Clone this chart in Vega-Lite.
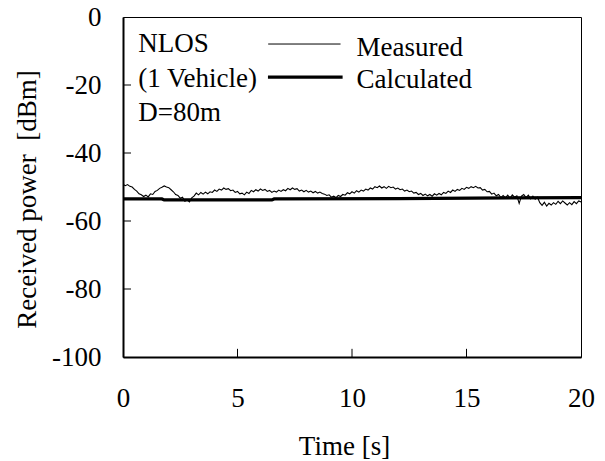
{
  "$schema": "https://vega.github.io/schema/vega-lite/v6.json",
  "width": 458,
  "height": 340,
  "autosize": {"type": "none"},
  "padding": {"left": 123, "top": 17, "right": 24, "bottom": 104},
  "background": "white",
  "config": {
    "font": "Liberation Serif",
    "view": {"stroke": "black", "strokeWidth": 1},
    "axis": {
      "grid": false,
      "ticks": false,
      "tickSize": 0,
      "labelFlush": false,
      "domainColor": "black",
      "domainWidth": 2,
      "labelColor": "black",
      "labelFont": "Liberation Serif",
      "labelFontSize": 27,
      "labelExpr": "datum.value + ''",
      "titleColor": "black",
      "titleFont": "Liberation Serif",
      "titleFontSize": 27,
      "titleFontWeight": "normal"
    }
  },
  "datasets": {
    "measured": [
      {"time":0.0,"power":-49.2,"series":"Measured"},{"time":0.1,"power":-49.6,"series":"Measured"},{"time":0.2,"power":-49.3,"series":"Measured"},{"time":0.3,"power":-49.8,"series":"Measured"},{"time":0.4,"power":-50.0,"series":"Measured"},{"time":0.5,"power":-50.7,"series":"Measured"},{"time":0.6,"power":-51.2,"series":"Measured"},{"time":0.7,"power":-52.0,"series":"Measured"},{"time":0.8,"power":-52.3,"series":"Measured"},{"time":0.9,"power":-52.8,"series":"Measured"},
      {"time":1.0,"power":-52.4,"series":"Measured"},{"time":1.1,"power":-52.9,"series":"Measured"},{"time":1.2,"power":-52.0,"series":"Measured"},{"time":1.3,"power":-52.2,"series":"Measured"},{"time":1.4,"power":-51.3,"series":"Measured"},{"time":1.5,"power":-51.0,"series":"Measured"},{"time":1.6,"power":-50.4,"series":"Measured"},{"time":1.7,"power":-50.1,"series":"Measured"},{"time":1.8,"power":-49.7,"series":"Measured"},{"time":1.9,"power":-50.0,"series":"Measured"},
      {"time":2.0,"power":-50.2,"series":"Measured"},{"time":2.1,"power":-50.8,"series":"Measured"},{"time":2.2,"power":-51.4,"series":"Measured"},{"time":2.3,"power":-52.2,"series":"Measured"},{"time":2.4,"power":-52.5,"series":"Measured"},{"time":2.5,"power":-53.3,"series":"Measured"},{"time":2.6,"power":-53.0,"series":"Measured"},{"time":2.7,"power":-54.2,"series":"Measured"},{"time":2.8,"power":-53.8,"series":"Measured"},{"time":2.9,"power":-54.4,"series":"Measured"},
      {"time":3.0,"power":-53.2,"series":"Measured"},{"time":3.1,"power":-52.7,"series":"Measured"},{"time":3.2,"power":-51.8,"series":"Measured"},{"time":3.3,"power":-52.3,"series":"Measured"},{"time":3.4,"power":-51.6,"series":"Measured"},{"time":3.5,"power":-52.1,"series":"Measured"},{"time":3.6,"power":-51.5,"series":"Measured"},{"time":3.7,"power":-52.0,"series":"Measured"},{"time":3.8,"power":-51.4,"series":"Measured"},{"time":3.9,"power":-51.6,"series":"Measured"},
      {"time":4.0,"power":-50.9,"series":"Measured"},{"time":4.1,"power":-51.3,"series":"Measured"},{"time":4.2,"power":-50.6,"series":"Measured"},{"time":4.3,"power":-50.9,"series":"Measured"},{"time":4.4,"power":-50.3,"series":"Measured"},{"time":4.5,"power":-50.7,"series":"Measured"},{"time":4.6,"power":-50.5,"series":"Measured"},{"time":4.7,"power":-51.1,"series":"Measured"},{"time":4.8,"power":-50.9,"series":"Measured"},{"time":4.9,"power":-51.6,"series":"Measured"},
      {"time":5.0,"power":-51.3,"series":"Measured"},{"time":5.1,"power":-52.0,"series":"Measured"},{"time":5.2,"power":-51.8,"series":"Measured"},{"time":5.3,"power":-52.3,"series":"Measured"},{"time":5.4,"power":-51.5,"series":"Measured"},{"time":5.5,"power":-51.9,"series":"Measured"},{"time":5.6,"power":-51.0,"series":"Measured"},{"time":5.7,"power":-51.4,"series":"Measured"},{"time":5.8,"power":-50.8,"series":"Measured"},{"time":5.9,"power":-51.2,"series":"Measured"},
      {"time":6.0,"power":-50.6,"series":"Measured"},{"time":6.1,"power":-51.0,"series":"Measured"},{"time":6.2,"power":-50.7,"series":"Measured"},{"time":6.3,"power":-51.3,"series":"Measured"},{"time":6.4,"power":-51.0,"series":"Measured"},{"time":6.5,"power":-51.6,"series":"Measured"},{"time":6.6,"power":-51.2,"series":"Measured"},{"time":6.7,"power":-51.5,"series":"Measured"},{"time":6.8,"power":-50.9,"series":"Measured"},{"time":6.9,"power":-51.3,"series":"Measured"},
      {"time":7.0,"power":-50.8,"series":"Measured"},{"time":7.1,"power":-51.1,"series":"Measured"},{"time":7.2,"power":-50.4,"series":"Measured"},{"time":7.3,"power":-50.8,"series":"Measured"},{"time":7.4,"power":-50.3,"series":"Measured"},{"time":7.5,"power":-50.7,"series":"Measured"},{"time":7.6,"power":-50.5,"series":"Measured"},{"time":7.7,"power":-51.2,"series":"Measured"},{"time":7.8,"power":-50.9,"series":"Measured"},{"time":7.9,"power":-51.4,"series":"Measured"},
      {"time":8.0,"power":-51.0,"series":"Measured"},{"time":8.1,"power":-51.5,"series":"Measured"},{"time":8.2,"power":-51.2,"series":"Measured"},{"time":8.3,"power":-51.7,"series":"Measured"},{"time":8.4,"power":-51.3,"series":"Measured"},{"time":8.5,"power":-51.8,"series":"Measured"},{"time":8.6,"power":-51.5,"series":"Measured"},{"time":8.7,"power":-51.9,"series":"Measured"},{"time":8.8,"power":-52.1,"series":"Measured"},{"time":8.9,"power":-52.5,"series":"Measured"},
      {"time":9.0,"power":-52.3,"series":"Measured"},{"time":9.1,"power":-53.0,"series":"Measured"},{"time":9.2,"power":-52.7,"series":"Measured"},{"time":9.3,"power":-53.1,"series":"Measured"},{"time":9.4,"power":-52.5,"series":"Measured"},{"time":9.5,"power":-52.8,"series":"Measured"},{"time":9.6,"power":-52.2,"series":"Measured"},{"time":9.7,"power":-52.4,"series":"Measured"},{"time":9.8,"power":-51.7,"series":"Measured"},{"time":9.9,"power":-52.0,"series":"Measured"},
      {"time":10.0,"power":-51.4,"series":"Measured"},{"time":10.1,"power":-51.8,"series":"Measured"},{"time":10.2,"power":-51.1,"series":"Measured"},{"time":10.3,"power":-51.5,"series":"Measured"},{"time":10.4,"power":-50.9,"series":"Measured"},{"time":10.5,"power":-51.2,"series":"Measured"},{"time":10.6,"power":-50.6,"series":"Measured"},{"time":10.7,"power":-50.9,"series":"Measured"},{"time":10.8,"power":-50.3,"series":"Measured"},{"time":10.9,"power":-50.6,"series":"Measured"},
      {"time":11.0,"power":-49.9,"series":"Measured"},{"time":11.1,"power":-50.2,"series":"Measured"},{"time":11.2,"power":-49.7,"series":"Measured"},{"time":11.3,"power":-50.3,"series":"Measured"},{"time":11.4,"power":-49.9,"series":"Measured"},{"time":11.5,"power":-50.4,"series":"Measured"},{"time":11.6,"power":-49.8,"series":"Measured"},{"time":11.7,"power":-50.2,"series":"Measured"},{"time":11.8,"power":-50.0,"series":"Measured"},{"time":11.9,"power":-50.6,"series":"Measured"},
      {"time":12.0,"power":-50.3,"series":"Measured"},{"time":12.1,"power":-50.8,"series":"Measured"},{"time":12.2,"power":-50.6,"series":"Measured"},{"time":12.3,"power":-51.2,"series":"Measured"},{"time":12.4,"power":-50.9,"series":"Measured"},{"time":12.5,"power":-51.4,"series":"Measured"},{"time":12.6,"power":-51.2,"series":"Measured"},{"time":12.7,"power":-51.8,"series":"Measured"},{"time":12.8,"power":-51.6,"series":"Measured"},{"time":12.9,"power":-52.2,"series":"Measured"},
      {"time":13.0,"power":-51.9,"series":"Measured"},{"time":13.1,"power":-52.5,"series":"Measured"},{"time":13.2,"power":-52.1,"series":"Measured"},{"time":13.3,"power":-52.6,"series":"Measured"},{"time":13.4,"power":-52.2,"series":"Measured"},{"time":13.5,"power":-52.7,"series":"Measured"},{"time":13.6,"power":-52.0,"series":"Measured"},{"time":13.7,"power":-52.4,"series":"Measured"},{"time":13.8,"power":-51.9,"series":"Measured"},{"time":13.9,"power":-52.3,"series":"Measured"},
      {"time":14.0,"power":-51.6,"series":"Measured"},{"time":14.1,"power":-51.9,"series":"Measured"},{"time":14.2,"power":-51.2,"series":"Measured"},{"time":14.3,"power":-51.6,"series":"Measured"},{"time":14.4,"power":-50.9,"series":"Measured"},{"time":14.5,"power":-51.3,"series":"Measured"},{"time":14.6,"power":-50.7,"series":"Measured"},{"time":14.7,"power":-51.0,"series":"Measured"},{"time":14.8,"power":-50.4,"series":"Measured"},{"time":14.9,"power":-50.7,"series":"Measured"},
      {"time":15.0,"power":-50.1,"series":"Measured"},{"time":15.1,"power":-50.4,"series":"Measured"},{"time":15.2,"power":-49.9,"series":"Measured"},{"time":15.3,"power":-50.2,"series":"Measured"},{"time":15.4,"power":-49.8,"series":"Measured"},{"time":15.5,"power":-50.3,"series":"Measured"},{"time":15.6,"power":-50.2,"series":"Measured"},{"time":15.7,"power":-50.9,"series":"Measured"},{"time":15.8,"power":-50.7,"series":"Measured"},{"time":15.9,"power":-51.4,"series":"Measured"},
      {"time":16.0,"power":-51.3,"series":"Measured"},{"time":16.1,"power":-52.1,"series":"Measured"},{"time":16.2,"power":-51.8,"series":"Measured"},{"time":16.3,"power":-52.6,"series":"Measured"},{"time":16.4,"power":-52.2,"series":"Measured"},{"time":16.5,"power":-53.1,"series":"Measured"},{"time":16.6,"power":-52.5,"series":"Measured"},{"time":16.7,"power":-53.2,"series":"Measured"},{"time":16.8,"power":-52.4,"series":"Measured"},{"time":16.9,"power":-53.3,"series":"Measured"},
      {"time":17.0,"power":-52.3,"series":"Measured"},{"time":17.1,"power":-53.0,"series":"Measured"},{"time":17.2,"power":-52.6,"series":"Measured"},{"time":17.3,"power":-54.8,"series":"Measured"},{"time":17.4,"power":-52.7,"series":"Measured"},{"time":17.5,"power":-52.2,"series":"Measured"},{"time":17.6,"power":-53.1,"series":"Measured"},{"time":17.7,"power":-52.4,"series":"Measured"},{"time":17.8,"power":-53.5,"series":"Measured"},{"time":17.9,"power":-52.7,"series":"Measured"},
      {"time":18.0,"power":-53.6,"series":"Measured"},{"time":18.1,"power":-53.0,"series":"Measured"},{"time":18.2,"power":-54.6,"series":"Measured"},{"time":18.3,"power":-55.4,"series":"Measured"},{"time":18.4,"power":-54.5,"series":"Measured"},{"time":18.5,"power":-55.6,"series":"Measured"},{"time":18.6,"power":-54.8,"series":"Measured"},{"time":18.7,"power":-55.3,"series":"Measured"},{"time":18.8,"power":-54.6,"series":"Measured"},{"time":18.9,"power":-55.1,"series":"Measured"},
      {"time":19.0,"power":-54.2,"series":"Measured"},{"time":19.1,"power":-54.9,"series":"Measured"},{"time":19.2,"power":-54.1,"series":"Measured"},{"time":19.3,"power":-54.7,"series":"Measured"},{"time":19.4,"power":-55.3,"series":"Measured"},{"time":19.5,"power":-54.6,"series":"Measured"},{"time":19.6,"power":-55.2,"series":"Measured"},{"time":19.7,"power":-54.3,"series":"Measured"},{"time":19.8,"power":-54.9,"series":"Measured"},{"time":19.9,"power":-54.1,"series":"Measured"},
      {"time":20.0,"power":-54.4,"series":"Measured"}
    ],
    "calculated": [
      {"time":0.0,"power":-53.5,"series":"Calculated"},
      {"time":1.7,"power":-53.5,"series":"Calculated"},
      {"time":1.8,"power":-53.8,"series":"Calculated"},
      {"time":6.5,"power":-53.8,"series":"Calculated"},
      {"time":6.6,"power":-53.5,"series":"Calculated"},
      {"time":12.0,"power":-53.4,"series":"Calculated"},
      {"time":20.0,"power":-53.1,"series":"Calculated"}
    ],
    "yticks": [{"v": -80}, {"v": -60}, {"v": -40}, {"v": -20}],
    "xticks": [{"v": 5}, {"v": 10}, {"v": 15}],
    "one": [{}]
  },
  "layer": [
    {
      "data": {"name": "measured"},
      "mark": {"type": "line", "color": "black", "strokeWidth": 1.1, "clip": true},
      "encoding": {
        "x": {
          "field": "time", "type": "quantitative",
          "scale": {"domain": [0, 20], "nice": false},
          "axis": {"values": [0, 5, 10, 15, 20], "labelPadding": 28, "title": "Time [s]", "titlePadding": 22, "titleX": 221}
        },
        "y": {
          "field": "power", "type": "quantitative",
          "scale": {"domain": [-100, 0], "nice": false},
          "axis": {"values": [-100, -80, -60, -40, -20, 0], "labelPadding": 22, "title": "Received power\u00a0 [dBm]", "titlePadding": 10, "titleY": 182}
        }
      }
    },
    {
      "data": {"name": "calculated"},
      "mark": {"type": "line", "color": "black", "strokeWidth": 3.3, "clip": true},
      "encoding": {
        "x": {"field": "time", "type": "quantitative"},
        "y": {"field": "power", "type": "quantitative"}
      }
    },
    {
      "data": {"name": "yticks"},
      "mark": {"type": "rule", "color": "black", "strokeWidth": 1},
      "encoding": {
        "y": {"field": "v", "type": "quantitative"},
        "x": {"datum": 0},
        "x2": {"datum": 0.35}
      }
    },
    {
      "data": {"name": "xticks"},
      "mark": {"type": "rule", "color": "black", "strokeWidth": 1},
      "encoding": {
        "x": {"field": "v", "type": "quantitative"},
        "y": {"datum": -100},
        "y2": {"datum": -97.6}
      }
    },
    {
      "data": {"name": "one"},
      "mark": {"type": "text", "align": "left", "baseline": "alphabetic", "font": "Liberation Serif", "fontSize": 27, "color": "black", "lineHeight": 34.2},
      "encoding": {
        "x": {"datum": 0.67},
        "y": {"datum": -10.4},
        "text": {"value": ["NLOS", "(1 Vehicle)", "D=80m"]}
      }
    },
    {
      "data": {"name": "one"},
      "mark": {"type": "rule", "color": "black", "strokeWidth": 1},
      "encoding": {
        "x": {"datum": 6.34},
        "x2": {"datum": 9.5},
        "y": {"datum": -7.95}
      }
    },
    {
      "data": {"name": "one"},
      "mark": {"type": "rule", "color": "black", "strokeWidth": 3.3},
      "encoding": {
        "x": {"datum": 6.33},
        "x2": {"datum": 9.59},
        "y": {"datum": -17.7}
      }
    },
    {
      "data": {"name": "one"},
      "mark": {"type": "text", "align": "left", "baseline": "alphabetic", "font": "Liberation Serif", "fontSize": 27, "color": "black"},
      "encoding": {
        "x": {"datum": 10.2},
        "y": {"datum": -11.5},
        "text": {"value": "Measured"}
      }
    },
    {
      "data": {"name": "one"},
      "mark": {"type": "text", "align": "left", "baseline": "alphabetic", "font": "Liberation Serif", "fontSize": 27, "color": "black"},
      "encoding": {
        "x": {"datum": 10.2},
        "y": {"datum": -21.0},
        "text": {"value": "Calculated"}
      }
    }
  ]
}
